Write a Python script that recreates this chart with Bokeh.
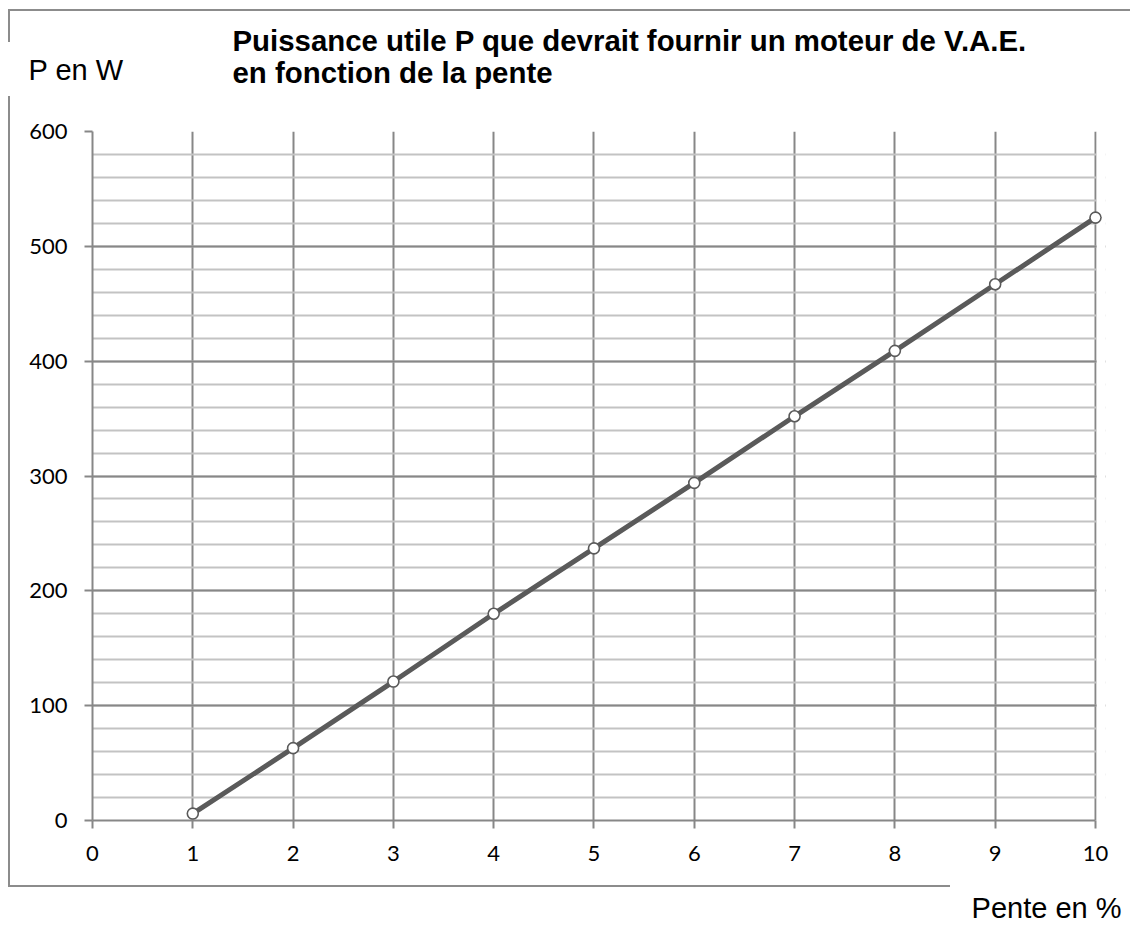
from bokeh.plotting import figure
from bokeh.models import Range1d, SingleIntervalTicker, BoxAnnotation, Label
from bokeh.embed import file_html
from bokeh.resources import INLINE

# ---- data ----
pente = [1, 2, 3, 4, 5, 6, 7, 8, 9, 10]
puissance = [6, 63, 121, 180, 237, 294, 352, 409, 467, 525]
title_line1 = "Puissance utile P que devrait fournir un moteur de V.A.E."
title_line2 = "en fonction de la pente"
y_title = "P en W"
x_title = "Pente en %"

GRID_MAJOR = "#878787"
GRID_MINOR = "#c3c3c3"
SERIES = "#5a5a5a"
BORDER = "#8c8c8c"

W, H = 1130, 925
p = figure(width=W, height=H, output_backend="svg", toolbar_location=None,
           x_range=Range1d(0, 10.1), y_range=Range1d(0, 600),
           min_border_left=92, min_border_right=25, min_border_top=131, min_border_bottom=105)
p.outline_line_color = None
p.background_fill_color = "white"
p.border_fill_color = None

# chart-area border (partial frame, drawn as CSS background lines behind the canvas)
g = f"linear-gradient({BORDER},{BORDER})"
p.styles = {
    "background-color": "white",
    "background-image": ", ".join([g] * 4),
    "background-size": "1122px 2px, 2px 33px, 2px 791px, 942px 2px",
    "background-position": "8px 9px, 8px 9px, 8px 96px, 8px 885px",
    "background-repeat": "no-repeat",
}

# axes
p.xaxis.ticker = SingleIntervalTicker(interval=1, num_minor_ticks=0)
p.yaxis.ticker = SingleIntervalTicker(interval=100, num_minor_ticks=5)
for ax in (p.xaxis[0], p.yaxis[0]):
    ax.axis_line_color = GRID_MAJOR
    ax.axis_line_width = 2
    ax.major_tick_line_color = GRID_MAJOR
    ax.major_tick_line_width = 2
    ax.major_tick_out = 8
    ax.major_tick_in = 0
    ax.minor_tick_line_color = None
    ax.major_label_text_font = "Lato"
    ax.major_label_text_font_size = "22px"
    ax.major_label_text_color = "black"
p.xaxis.bounds = (0, 10)
p.yaxis.bounds = (0, 600)
p.yaxis.major_label_standoff = 17
p.xaxis.major_label_standoff = 17

# grids
p.xgrid.ticker = SingleIntervalTicker(interval=1, num_minor_ticks=0)
p.xgrid.grid_line_color = GRID_MAJOR
p.xgrid.grid_line_width = 2
p.ygrid.ticker = SingleIntervalTicker(interval=100, num_minor_ticks=5)
p.ygrid.grid_line_color = GRID_MAJOR
p.ygrid.grid_line_width = 2
p.ygrid.minor_grid_line_color = GRID_MINOR
p.ygrid.minor_grid_line_width = 2

# white cover of the small strip past x = 10 (under glyphs)
p.add_layout(BoxAnnotation(left=10.012, fill_color="white", fill_alpha=1,
                           line_color=None, level="underlay"))

# series
p.line(pente, puissance, line_color=SERIES, line_width=5)
p.scatter(pente, puissance, size=11, fill_color="white", line_color=SERIES, line_width=1.6)

# texts (in side panels so they are not clipped to the frame)
def lab(x, y, text, place, size="29px", bold=False, align="left"):
    p.add_layout(Label(x=x, y=y, x_units="canvas", y_units="canvas", text=text,
                       text_font="Liberation Sans", text_font_size=size,
                       text_font_style="bold" if bold else "normal",
                       text_color="black", text_align=align,
                       text_baseline="alphabetic"), place)

lab(232, 40, title_line1, "above", size="29.4px", bold=True)
lab(232, 72, title_line2, "above", size="29.4px", bold=True)
lab(28, 69, y_title, "above")
lab(1121, 907, x_title, "below", align="right")

open("out.html", "w").write(file_html(p, INLINE))
